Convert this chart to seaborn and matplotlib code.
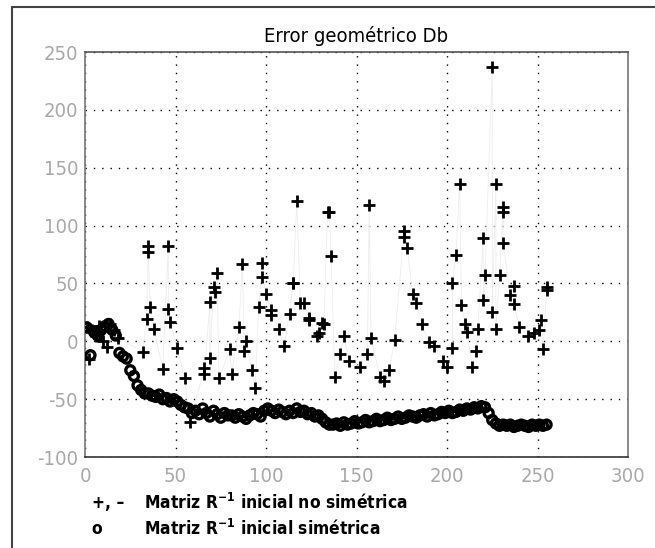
import numpy as np
import pandas as pd
import matplotlib
matplotlib.use("Agg")
import matplotlib.pyplot as plt
from matplotlib.lines import Line2D
import seaborn as sns

# Series "+, -" : matrix R^-1 initial, non symmetric (scattered points)
plus_x = [1, 2, 4, 6, 8, 10, 12, 14, 16, 18,
          32, 34, 35, 35, 36, 38, 43, 46, 46, 47, 51, 55, 58,
          66, 66, 69, 69, 71, 72, 73, 74, 80, 81, 85, 87, 88, 89,
          92, 94, 96, 98, 98, 100, 103, 103, 107, 110, 113, 115, 115,
          117, 119, 121, 124, 124, 128, 129, 131, 132, 134, 135, 136,
          138, 141, 143, 146, 152, 156, 157, 158, 163, 165, 168, 171,
          176, 176, 178, 181, 183, 186, 190, 193, 198, 200, 203, 203,
          205, 207, 208, 210, 211, 214, 216, 217, 220, 220, 221, 225,
          225, 227, 227, 229, 231, 231, 231, 235, 237, 237, 240, 245,
          248, 251, 252, 253, 255, 255]
plus_y = [12, -15, 10, 5, 13, 0, -5, 15, 10, 3,
          -9, 19, 82, 77, 30, 11, -24, 82, 28, 17, -6, -32, -70,
          -23, -28, 34, -14, 47, 43, 59, -32, -7, -28, 12, 67, -8, 0,
          -25, -40, 30, 68, 56, 41, 27, 23, 11, -4, 24, 50, 50,
          121, 33, 33, 20, 18, 5, 7, 16, 15, 112, 112, 74,
          -31, -11, 5, -17, -22, -11, 118, 3, -31, -34, -25, 1,
          90, 95, 81, 41, 33, 15, -1, -4, -17, -22, -6, 50,
          75, 136, 31, 15, 8, -22, -8, 11, 89, 36, 57, 237,
          25, 136, 11, 57, 116, 112, 85, 40, 48, 32, 12, 5,
          7, 10, 18, -7, 44, 47]

# Series "o" : matrix R^-1 initial, symmetric (x = 1, 3, 5, ..., 255)
circ_y = [12, -12, 8, 5, 10, 13, 15, 10, 5, -10,
          -13, -15, -25, -30, -38, -42, -45, -45, -47, -48,
          -46, -50, -49, -52, -50, -52, -55, -57, -58, -62,
          -60, -63, -58, -62, -65, -60, -63, -66, -62, -64,
          -64, -66, -63, -65, -67, -64, -62, -63, -65, -60,
          -58, -60, -62, -59, -61, -63, -60, -62, -58, -61,
          -60, -63, -62, -65, -64, -67, -70, -72, -72, -71,
          -73, -70, -72, -71, -69, -71, -70, -68, -70, -69,
          -67, -69, -68, -66, -68, -67, -65, -67, -66, -64,
          -65, -66, -64, -63, -65, -62, -64, -63, -61, -62,
          -60, -62, -61, -59, -60, -58, -59, -57, -58, -56,
          -57, -62, -68, -71, -73, -72, -73, -72, -74, -73,
          -72, -73, -74, -72, -73, -72, -73, -72]
circ_x = list(range(1, 2 * len(circ_y), 2))

x_ticks = [0, 50, 100, 150, 200, 250, 300]
y_ticks = [-100, -50, 0, 50, 100, 150, 200, 250]

sns.set_theme(style="white")
plt.rcParams['font.family'] = ['Liberation Sans Narrow', 'DejaVu Sans']
plt.rcParams['font.stretch'] = 'condensed'
plt.rcParams['axes.unicode_minus'] = False

fig = plt.figure(figsize=(6.55, 5.48), dpi=100)
ax = fig.add_axes([0.1298, 0.166, 0.829, 0.739])

df_plus = pd.DataFrame({"x": plus_x, "y": plus_y})
df_circ = pd.DataFrame({"x": circ_x, "y": circ_y})

# faint connecting line of the non symmetric run
ax.plot(df_plus["x"], df_plus["y"], color="#ededed", lw=0.6, zorder=1)

sns.scatterplot(data=df_circ, x="x", y="y", ax=ax, marker="o", s=42,
                facecolors="none", edgecolor="black", linewidth=2.4,
                zorder=3, legend=False)
sns.scatterplot(data=df_plus, x="x", y="y", ax=ax, marker="+", s=70,
                color="black", linewidth=2.0, zorder=4, legend=False)

ax.set_xlim(0, 300)
ax.set_ylim(-100, 250)
ax.set_xticks(x_ticks)
ax.set_yticks(y_ticks)
ax.set_xlabel("")
ax.set_ylabel("")
ax.grid(True, color="black", linestyle=(0, (1, 5)), linewidth=1.0)
ax.tick_params(direction="in", length=4, width=1, colors="#555555",
               labelcolor="#a8a8a8", labelsize=14.5)
ax.tick_params(axis="x", pad=7)
ax.tick_params(axis="y", pad=5)
for side, sp in ax.spines.items():
    sp.set_color("#777777")
    sp.set_linewidth(1.2)
ax.spines["bottom"].set_color("#333333")
ax.spines["top"].set_color("#555555")

ax.set_title("Error geométrico Db", fontsize=14.5, color="black", pad=7)

# outer frame of the scanned figure (left and top edges)
fig.add_artist(Line2D([0.0183, 0.0183], [0.0, 0.987], color="#444444", lw=1.5))
fig.add_artist(Line2D([0.0183, 1.0], [0.987, 0.987], color="#444444", lw=1.5))

# legend text under the axes
leg_kw = dict(fontsize=12.5, fontweight="bold", color="black", va="center")
fig.text(0.140, 0.082, "+, \u2013", **leg_kw)
fig.text(0.140, 0.035, "o", **leg_kw)
fig.text(0.220, 0.082, r"Matriz R$^{\mathbf{-1}}$ inicial no simétrica", **leg_kw)
fig.text(0.220, 0.035, r"Matriz R$^{\mathbf{-1}}$ inicial simétrica", **leg_kw)

fig.savefig("out.png", dpi=100)
